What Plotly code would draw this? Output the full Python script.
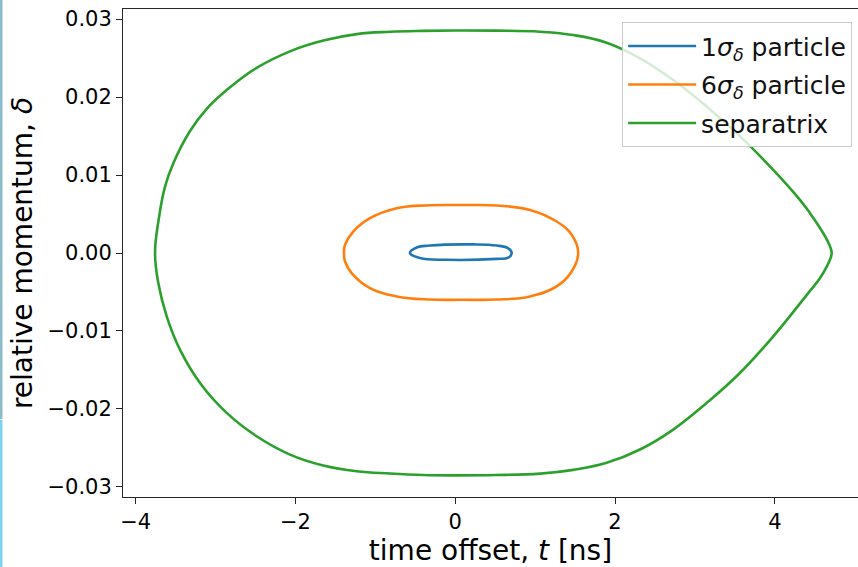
import plotly.graph_objects as go

# Separatrix: closed loop, upper branch left -> right, then lower branch back
sep_t = [-3.758, -3.713, -3.633, -3.529, -3.320, -3.111, -2.820, -2.486, -2.069,
         -1.652, -1.234, -0.817, -0.400, 0.000, 0.500, 1.061, 1.477, 1.895, 2.312,
         2.728, 3.146, 3.563, 3.980, 4.314, 4.440, 4.560, 4.650, 4.700, 4.711,
         4.700, 4.650, 4.560, 4.398, 3.980, 3.563, 3.146, 2.728, 2.312, 1.895, 1.477, 1.060,
         0.500, 0.000, -0.400, -0.817, -1.234, -1.652, -2.069, -2.486, -2.861,
         -3.195, -3.446, -3.612, -3.717, -3.758]
sep_delta = [0.0, 0.00425, 0.00852, 0.01152, 0.01565, 0.01850, 0.02125, 0.02375, 0.02587,
             0.02725, 0.02808, 0.02838, 0.02850, 0.02855, 0.02852, 0.02838, 0.02796, 0.02697, 0.02497,
             0.02219, 0.01880, 0.01500, 0.01066, 0.00682, 0.00511, 0.00330, 0.00175, 0.00060, 0.0,
             -0.00060, -0.00175, -0.00330, -0.00540, -0.01070, -0.01539, -0.01923, -0.02265, -0.02521,
             -0.02692, -0.02782, -0.02830,
             -0.02848, -0.02852, -0.02848, -0.02829, -0.02800, -0.02726, -0.02586, -0.02351, -0.02051,
             -0.01667, -0.01240, -0.00813, -0.00386, 0.0]

# 6-sigma particle orbit
p6_t = [-1.393, -1.380, -1.277, -1.068, -0.733, -0.317, 0.100, 0.518, 0.935, 1.269, 1.457, 1.539,
        1.457, 1.269, 0.935, 0.518, 0.100, -0.317, -0.733, -1.068, -1.297, -1.380, -1.393]
p6_delta = [0.0, 0.00105, 0.00275, 0.00447, 0.00575, 0.00612, 0.00615, 0.00609, 0.00553, 0.00404, 0.00233, 0.0,
            -0.00237, -0.00429, -0.00557, -0.00597, -0.00600, -0.00597, -0.00557, -0.00450, -0.00258, -0.00109, 0.0]

# 1-sigma particle orbit
p1_t = [-0.567, -0.483, -0.317, 0.225, 0.518, 0.663, 0.706, 0.663, 0.518, -0.108, -0.442, -0.567]
p1_delta = [0.0, 0.00070, 0.00096, 0.00110, 0.00096, 0.00060, 0.0, -0.00060, -0.00075, -0.00087, -0.00065, 0.0]

x_ticks = [-4, -2, 0, 2, 4]
y_ticks = [-0.03, -0.02, -0.01, 0.0, 0.01, 0.02, 0.03]

FONT = "DejaVu Sans"
AX = "#262626"

fig = go.Figure()
series = [
    (p1_t, p1_delta, "1<i>σ</i><sub><i>δ</i></sub> particle", "#1f77b4"),
    (p6_t, p6_delta, "6<i>σ</i><sub><i>δ</i></sub> particle", "#ff7f0e"),
    (sep_t, sep_delta, "separatrix", "#2ca02c"),
]
for i, (tx, dy, name, col) in enumerate(series):
    fig.add_trace(go.Scatter(
        x=tx, y=dy, mode="lines", name=name, legendgroup=f"g{i}",
        line=dict(color=col, width=2.6, shape="spline", smoothing=1.2),
    ))

fig.update_layout(
    width=858, height=567,
    margin=dict(l=123, r=0, t=9, b=70),
    paper_bgcolor="white", plot_bgcolor="white",
    font=dict(family=FONT, color="black"),
    showlegend=True,
    legend=dict(
        x=0.992, y=0.973, xanchor="right", yanchor="top",
        bgcolor="rgba(255,255,255,0.8)", bordercolor="#cccccc", borderwidth=1,
        font=dict(family=FONT, size=25, color="#111"),
        traceorder="grouped", tracegroupgap=3, itemwidth=68,
    ),
    xaxis=dict(
        range=[-4.159, 5.041], tickvals=x_ticks, showgrid=False, zeroline=False,
        showline=True, mirror=True, linecolor=AX, linewidth=1,
        ticks="outside", ticklen=6, tickwidth=1, tickcolor=AX,
        tickfont=dict(family=FONT, size=21, color="black"),
        title=dict(text="time offset, <i>t</i> [ns]", font=dict(family=FONT, size=28), standoff=4),
    ),
    yaxis=dict(
        range=[-0.0313, 0.0313], tickvals=y_ticks, tickformat=".2f", showgrid=False, zeroline=False,
        showline=True, mirror=False, linecolor=AX, linewidth=1,
        ticks="outside", ticklen=6, tickwidth=1, tickcolor=AX,
        tickfont=dict(family=FONT, size=21, color="black"),
        title=dict(text="relative momentum, <i>δ</i>", font=dict(family=FONT, size=28), standoff=6),
    ),
    shapes=[
        dict(type="rect", xref="paper", yref="paper", x0=-123 / 735, x1=-120.5 / 735,
             y0=-(567 - 497 - 148) / 488, y1=1 + 9 / 488, line=dict(width=0), fillcolor="#8cbccc"),
        dict(type="rect", xref="paper", yref="paper", x0=-123 / 735, x1=-120.5 / 735,
             y0=-70 / 488, y1=-(567 - 497 - 149) / 488 - 0.004, line=dict(width=0), fillcolor="#7ed4ef"),
    ],
)

fig.write_html("out.html")
